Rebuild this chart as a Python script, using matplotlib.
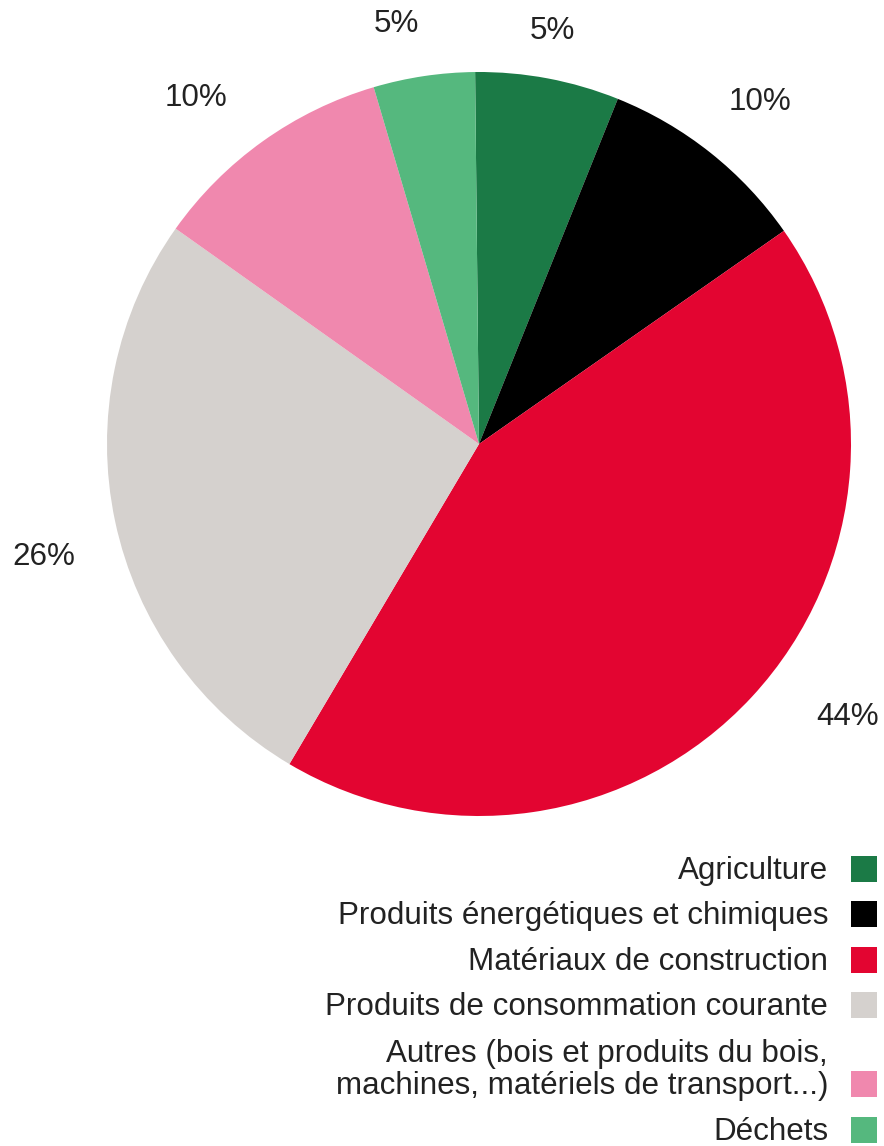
import matplotlib
matplotlib.use("Agg")
from matplotlib import pyplot as plt
from matplotlib.patches import Rectangle

categories = ["Agriculture",
              "Produits énergétiques et chimiques",
              "Matériaux de construction",
              "Produits de consommation courante",
              "Autres (bois et produits du bois,\nmachines, matériels de transport...)",
              "Déchets"]
shares = [6.25, 9.2, 43.2, 26.3, 10.6, 4.4]
pct_labels = ["5%", "10%", "44%", "26%", "10%", "5%"]
colors = ["#1b7a46", "#000000", "#e30531", "#d5d1ce", "#f088ae", "#55b87e"]

plt.rcParams['font.family'] = ['Liberation Sans', 'DejaVu Sans']
W, H = 884, 1146
fig = plt.figure(figsize=(W / 100, H / 100), dpi=100)
ax = fig.add_axes([0, 0, 1, 1])

# pie (y axis is inverted afterwards, so counterclock=True draws clockwise on screen)
ax.pie(shares, colors=colors, center=(479, 444), radius=372,
       startangle=-90.6, counterclock=True, frame=True,
       wedgeprops=dict(linewidth=0))
ax.set_xlim(0, W)
ax.set_ylim(H, 0)
ax.axis('off')

fs = 22.6
label_pos = [(552, 31), (760, 102), (848, 717), (44, 557), (196, 98), (396, 24)]
for txt, (x, y) in zip(pct_labels, label_pos):
    ax.text(x, y, txt, ha='center', va='center', fontsize=fs, color='#222222')

# legend drawn by hand, right aligned
row_y = [871, 916, 962, 1007, 1070, 1132]
for name, col, y in zip(categories, colors, row_y):
    ax.text(828, y, name, ha='right', va='center', fontsize=fs,
            color='#222222', multialignment='right', linespacing=1.12)
    sy = y + 14 if '\n' in name else y - 2
    ax.add_patch(Rectangle((851, sy - 13), 26, 26, facecolor=col, edgecolor='none'))

fig.savefig("out.png", dpi=100)
